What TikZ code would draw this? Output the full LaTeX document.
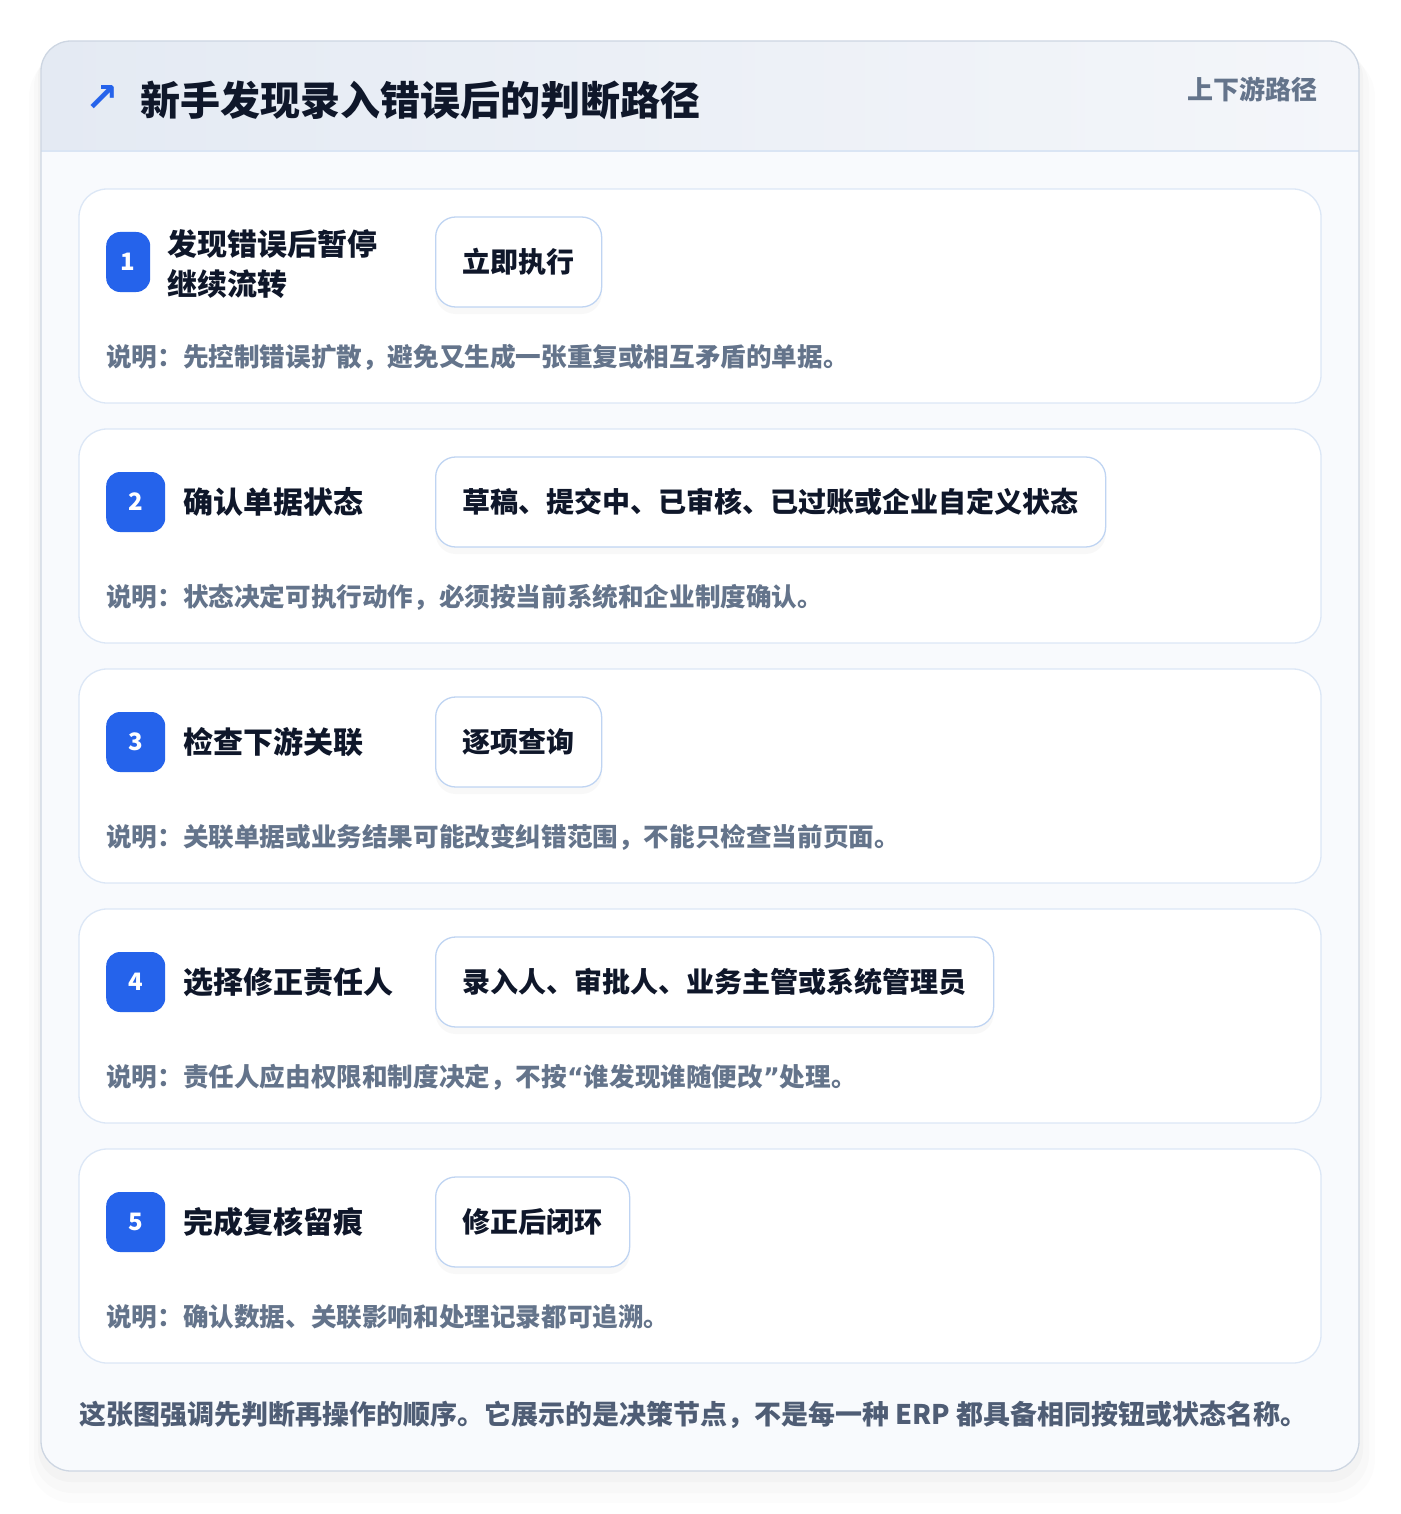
\documentclass[tikz,border=0pt]{standalone}
\usepackage{fontspec}
\setmainfont{Noto Sans CJK SC}
\newfontfamily\symfont{DejaVu Sans}
\usetikzlibrary{positioning,shadows}
\definecolor{frameline}{HTML}{CDD6E2}
\definecolor{headleft}{HTML}{E4EAF3}
\definecolor{headright}{HTML}{F4F6FA}
\definecolor{headline}{HTML}{DAE5F4}
\definecolor{bodybg}{HTML}{F8FAFD}
\definecolor{cardline}{HTML}{DCE7F6}
\definecolor{pillline}{HTML}{BFD4F2}
\definecolor{badgeblue}{HTML}{2563EB}
\definecolor{ink}{HTML}{0F172A}
\definecolor{muted}{HTML}{64748B}
\definecolor{footink}{HTML}{4F5D75}
\newcommand{\openq}{{\symfont\bfseries “}}
\newcommand{\closeq}{{\symfont\bfseries ”}}
\tikzset{
    %Define style for the step cards
    card/.style={
           draw=cardline, line width=1.3pt,
           fill=white,
           rounded corners=28pt,
           minimum width=1242pt,
           minimum height=214pt},
    %Define style for the number badges
    badge/.style={
           fill=badgeblue,
           rounded corners=14pt,
           minimum width=59pt,
           minimum height=60pt,
           inner sep=0pt,
           text=white,
           font=\fontsize{24}{24}\selectfont\bfseries},
    steptitle/.style={
           inner sep=0pt,
           align=left,
           text=ink,
           font=\fontsize{30}{40}\selectfont\bfseries},
    %Define style for the action pills
    pill/.style={
           draw=pillline, line width=1.3pt,
           fill=white,
           rounded corners=20pt,
           minimum height=90pt,
           inner xsep=27pt, inner ysep=0pt,
           text=ink,
           font=\fontsize{28}{28}\selectfont\bfseries,
           drop shadow={shadow xshift=0pt, shadow yshift=-7pt, opacity=.05}},
    note/.style={
           inner sep=0pt,
           text=muted,
           font=\fontsize{25.6}{25.6}\selectfont\bfseries}
}
\begin{document}
\begin{tikzpicture}[x=1pt,y=-1pt,node distance=18pt]
\useasboundingbox (0,0) rectangle (1400,1514);
% soft shadow of the frame
\fill[black,opacity=.012,rounded corners=44pt] (29,53) rectangle (1375,1503);
\fill[black,opacity=.015,rounded corners=38pt] (34,49) rectangle (1369,1493);
\fill[black,opacity=.02,rounded corners=33pt] (38,45) rectangle (1363,1482);
% frame and header
\begin{scope}
\clip[rounded corners=30pt] (41,41) rectangle (1359,1471);
\fill[bodybg] (41,41) rectangle (1359,1471);
\shade[left color=headleft, right color=headright] (41,41) rectangle (1359,151);
\draw[headline, line width=1.3pt] (41,151) -- (1359,151);
\end{scope}
\draw[frameline, line width=1.3pt, rounded corners=30pt] (41,41) rectangle (1359,1471);
\node[anchor=center, inner sep=0pt, text=badgeblue, font=\symfont\bfseries\fontsize{40}{40}\selectfont](arrow) at (102,99){↗};
\node[anchor=west, inner sep=0pt, text=ink, font=\fontsize{40}{40}\selectfont\bfseries](title) at (140,100){新手发现录入错误后的判断路径};
\node[anchor=east, inner sep=0pt, text=muted, font=\fontsize{26}{26}\selectfont\bfseries](tag) at (1318,89){上下游路径};

% step 1
\node[card](c1) at (700,296){};
\node[badge, minimum width=44pt, anchor=west](b1) at (106,262){1};
\node[steptitle, right=17pt of b1, yshift=-2pt](t1){发现错误后暂停\\继续流转};
\node[pill, anchor=west](p1) at (435,262){立即执行};
\node[note, anchor=west](n1) at (106,357){说明：先控制错误扩散，避免又生成一张重复或相互矛盾的单据。};

% step 2
\node[card](c2) at (700,536){};
\node[badge, anchor=west](b2) at (106,502){2};
\node[steptitle, right=of b2](t2){确认单据状态};
\node[pill, anchor=west](p2) at (435,502){草稿、提交中、已审核、已过账或企业自定义状态};
\node[note, anchor=west](n2) at (106,597){说明：状态决定可执行动作，必须按当前系统和企业制度确认。};

% step 3
\node[card](c3) at (700,776){};
\node[badge, anchor=west](b3) at (106,742){3};
\node[steptitle, right=of b3](t3){检查下游关联};
\node[pill, anchor=west](p3) at (435,742){逐项查询};
\node[note, anchor=west](n3) at (106,837){说明：关联单据或业务结果可能改变纠错范围，不能只检查当前页面。};

% step 4
\node[card](c4) at (700,1016){};
\node[badge, anchor=west](b4) at (106,982){4};
\node[steptitle, right=of b4](t4){选择修正责任人};
\node[pill, anchor=west](p4) at (435,982){录入人、审批人、业务主管或系统管理员};
\node[note, anchor=west](n4) at (106,1077){说明：责任人应由权限和制度决定，不按\openq 谁发现谁随便改\closeq 处理。};

% step 5
\node[card](c5) at (700,1256){};
\node[badge, anchor=west](b5) at (106,1222){5};
\node[steptitle, right=of b5](t5){完成复核留痕};
\node[pill, anchor=west](p5) at (435,1222){修正后闭环};
\node[note, anchor=west](n5) at (106,1317){说明：确认数据、关联影响和处理记录都可追溯。};

\node[anchor=west, inner sep=0pt, text=footink, font=\fontsize{27}{27}\selectfont\bfseries](foot) at (79,1415){这张图强调先判断再操作的顺序。它展示的是决策节点，不是每一种 ERP 都具备相同按钮或状态名称。};
\end{tikzpicture}
\end{document}
